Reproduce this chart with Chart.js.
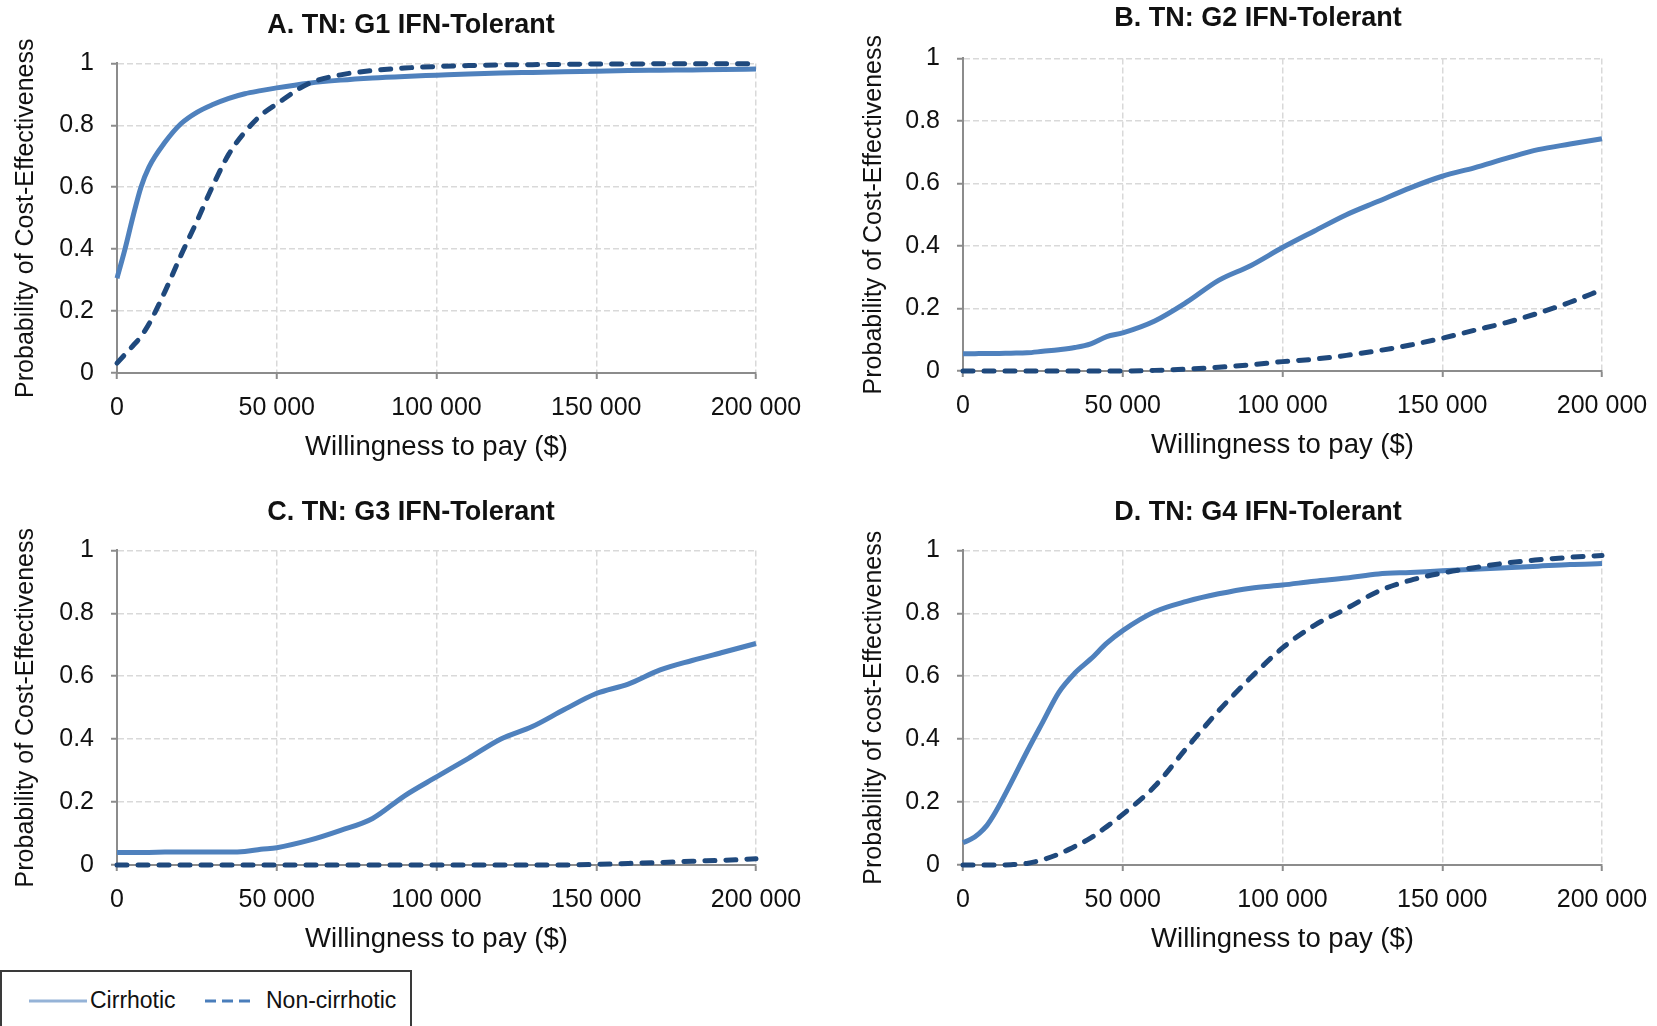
<!DOCTYPE html>
<html>
<head>
<meta charset="utf-8">
<title>Cost-effectiveness acceptability curves</title>
<script src="https://cdn.jsdelivr.net/npm/chart.js@4.4.1/dist/chart.umd.min.js"></script>
<style>
    html, body { margin: 0; padding: 0; background: #fff; overflow: hidden; }
    body { width: 1657px; height: 1026px; position: relative; font-family: "Liberation Sans", Arial, sans-serif; }
    canvas { position: absolute; }
    #legend {
        position: absolute; left: 0; top: 970px; width: 412px; height: 70px;
        box-sizing: border-box; border: 2px solid #3a3a3a; background: #fff;
        font-size: 23px; color: #111;
    }
    #legend svg { position: absolute; left: 0; top: 0; }
    #legend span { position: absolute; top: 15px; }
</style>
</head>
<body>
<canvas id="panelA" width="822" height="473" style="left:0;top:0"></canvas>
<canvas id="panelB" width="820" height="471" style="left:848px;top:0"></canvas>
<canvas id="panelC" width="822" height="478" style="left:0;top:487px"></canvas>
<canvas id="panelD" width="820" height="478" style="left:848px;top:487px"></canvas>
<div id="legend">
    <svg width="412" height="70">
        <line x1="27" y1="29" x2="85" y2="29" stroke="#95b3d7" stroke-width="3"></line>
        <line x1="203" y1="29" x2="254" y2="29" stroke="#4a7ebb" stroke-width="3" stroke-dasharray="11 6"></line>
    </svg>
    <span style="left:88px">Cirrhotic</span>
    <span style="left:264px">Non-cirrhotic</span>
</div>
<script>
(function () {
    'use strict';

    // willingness to pay ($), shared x values for every curve
    const wtp = [0, 2500, 5000, 7500, 10000, 15000, 20000, 25000, 30000, 35000, 40000, 45000, 50000,
        60000, 70000, 80000, 90000, 100000, 110000, 120000, 130000, 140000, 150000, 160000, 170000,
        180000, 190000, 200000];

    const xTicks = [0, 50000, 100000, 150000, 200000];
    const yTicks = [0, 0.2, 0.4, 0.6, 0.8, 1];
    const seriesNames = ['Cirrhotic', 'Non-cirrhotic'];

    const g1Cirrhotic = [0.306, 0.40, 0.505, 0.60, 0.665, 0.745, 0.805, 0.842, 0.867, 0.887, 0.902, 0.912, 0.921,
        0.936, 0.946, 0.953, 0.958, 0.962, 0.966, 0.969, 0.971, 0.973, 0.975, 0.977, 0.978, 0.979, 0.980, 0.982];
    const g1NonCirrhotic = [0.032, 0.06, 0.088, 0.118, 0.158, 0.263, 0.38, 0.49, 0.605, 0.707, 0.778, 0.832, 0.869,
        0.935, 0.963, 0.977, 0.985, 0.99, 0.993, 0.995, 0.996, 0.997, 0.998, 0.998, 0.999, 0.999, 0.999, 0.999];

    const g2Cirrhotic = [0.055, 0.055, 0.056, 0.056, 0.056, 0.057, 0.058, 0.063, 0.068, 0.075, 0.087, 0.11, 0.122,
        0.16, 0.22, 0.29, 0.337, 0.395, 0.448, 0.50, 0.543, 0.586, 0.623, 0.65, 0.68, 0.708, 0.726, 0.743];
    const g2NonCirrhotic = [0, 0, 0, 0, 0, 0, 0, 0, 0, 0, 0, 0, 0,
        0.002, 0.006, 0.012, 0.02, 0.03, 0.038, 0.05, 0.065, 0.083, 0.105, 0.13, 0.155, 0.185, 0.22, 0.26];

    const g3Cirrhotic = [0.04, 0.04, 0.04, 0.04, 0.04, 0.041, 0.041, 0.041, 0.041, 0.041, 0.043, 0.05, 0.055,
        0.078, 0.11, 0.148, 0.22, 0.28, 0.339, 0.40, 0.44, 0.494, 0.545, 0.575, 0.62, 0.65, 0.677, 0.704];
    const g3NonCirrhotic = [0, 0, 0, 0, 0, 0, 0, 0, 0, 0, 0, 0, 0,
        0, 0, 0, 0, 0, 0, 0, 0, 0, 0.002, 0.005, 0.008, 0.012, 0.015, 0.02];

    const g4Cirrhotic = [0.071, 0.082, 0.10, 0.126, 0.165, 0.26, 0.36, 0.455, 0.549, 0.61, 0.655, 0.705, 0.745,
        0.805, 0.838, 0.862, 0.88, 0.89, 0.902, 0.912, 0.925, 0.93, 0.935, 0.94, 0.945, 0.95, 0.955, 0.958];
    const g4NonCirrhotic = [0, 0, 0, 0, 0, 0.001, 0.005, 0.017, 0.035, 0.059, 0.086, 0.122, 0.161,
        0.25, 0.372, 0.49, 0.595, 0.69, 0.762, 0.815, 0.87, 0.905, 0.928, 0.945, 0.96, 0.97, 0.978, 0.984];

    const FONT = '"Liberation Sans", Arial, sans-serif';
    const AXIS_GRAY = '#8c8c8c';
    const GRID_GRAY = '#d9d9d9';
    const TEXT = '#111111';

    crearPanel('panelA', 'A. TN: G1 IFN-Tolerant', 'Probability of Cost-Effectiveness',
        g1Cirrhotic, g1NonCirrhotic, { yAxisWidth: 117, rightPad: 66, titleTop: 9, titleBottom: 22 });
    crearPanel('panelB', 'B. TN: G2 IFN-Tolerant', 'Probability of Cost-Effectiveness',
        g2Cirrhotic, g2NonCirrhotic, { yAxisWidth: 115, rightPad: 66, titleTop: 2, titleBottom: 24 });
    crearPanel('panelC', 'C. TN: G3 IFN-Tolerant', 'Probability of Cost-Effectiveness',
        g3Cirrhotic, g3NonCirrhotic, { yAxisWidth: 117, rightPad: 66, titleTop: 9, titleBottom: 22 });
    crearPanel('panelD', 'D. TN: G4 IFN-Tolerant', 'Probability of cost-Effectiveness',
        g4Cirrhotic, g4NonCirrhotic, { yAxisWidth: 115, rightPad: 66, titleTop: 9, titleBottom: 22 });

    function crearPanel(id, titulo, yTitulo, cirrotico, noCirrotico, caja) {
        const puntos = (valores) => wtp.map((x, i) => ({ x, y: valores[i] }));

        new Chart(document.getElementById(id), {
            type: 'line',
            data: {
                datasets: [
                    {
                        label: seriesNames[0],
                        data: puntos(cirrotico),
                        borderColor: '#4f81bd',
                        borderWidth: 5,
                        pointRadius: 0,
                        cubicInterpolationMode: 'monotone',
                        clip: false,
                        order: 1,
                    },
                    {
                        label: seriesNames[1],
                        data: puntos(noCirrotico),
                        borderColor: '#1f497d',
                        borderWidth: 5,
                        borderDash: [10, 11],
                        borderCapStyle: 'round',
                        pointRadius: 0,
                        cubicInterpolationMode: 'monotone',
                        clip: false,
                        order: 0,
                    },
                ],
            },
            options: {
                responsive: false,
                animation: false,
                devicePixelRatio: 1,
                layout: { padding: 0 },
                plugins: {
                    legend: { display: false },
                    tooltip: { enabled: false },
                    title: {
                        display: true,
                        text: titulo,
                        color: TEXT,
                        font: { family: FONT, size: 27, weight: 'bold', lineHeight: 1.2 },
                        padding: { top: caja.titleTop, bottom: caja.titleBottom },
                    },
                },
                scales: {
                    x: {
                        type: 'linear',
                        min: 0,
                        max: 200000,
                        afterBuildTicks: (eje) => { eje.ticks = xTicks.map((v) => ({ value: v })); },
                        afterFit: (eje) => { eje.height = 100; },
                        ticks: {
                            color: TEXT,
                            font: { family: FONT, size: 25 },
                            padding: 14,
                            maxRotation: 0,
                            callback: (v) => formatearMiles(v),
                        },
                        grid: { color: GRID_GRAY, lineWidth: 1.5, tickColor: AXIS_GRAY, tickLength: 6, tickWidth: 2 },
                        border: { color: AXIS_GRAY, width: 2, dash: [6, 3] },
                        title: {
                            display: true,
                            text: 'Willingness to pay ($)',
                            color: TEXT,
                            font: { family: FONT, size: 27.5, lineHeight: 1.2 },
                            padding: { top: 9, bottom: 9 },
                        },
                    },
                    y: {
                        type: 'linear',
                        min: 0,
                        max: 1,
                        afterBuildTicks: (eje) => { eje.ticks = yTicks.map((v) => ({ value: v })); },
                        afterFit: (eje) => { eje.width = caja.yAxisWidth; },
                        ticks: {
                            color: TEXT,
                            font: { family: FONT, size: 25 },
                            padding: 17,
                            callback: (v) => String(Number(v.toFixed(1))),
                        },
                        grid: { color: GRID_GRAY, lineWidth: 1.5, tickColor: AXIS_GRAY, tickLength: 6, tickWidth: 2 },
                        border: { color: AXIS_GRAY, width: 2, dash: [6, 3] },
                        title: {
                            display: true,
                            text: yTitulo,
                            color: TEXT,
                            font: { family: FONT, size: 25, lineHeight: 1.2 },
                            padding: { top: 11, bottom: 11 },
                        },
                    },
                    // empty right-hand box so the title centres over the whole panel
                    relleno: {
                        type: 'linear',
                        position: 'right',
                        display: true,
                        ticks: { display: false },
                        grid: { display: false },
                        border: { display: false },
                        afterFit: (eje) => { eje.width = caja.rightPad; },
                    },
                },
            },
        });
    }

    function formatearMiles(valor) {
        return String(valor).replace(/\B(?=(\d{3})+(?!\d))/g, ' ');
    }
})();
</script>
</body>
</html>
